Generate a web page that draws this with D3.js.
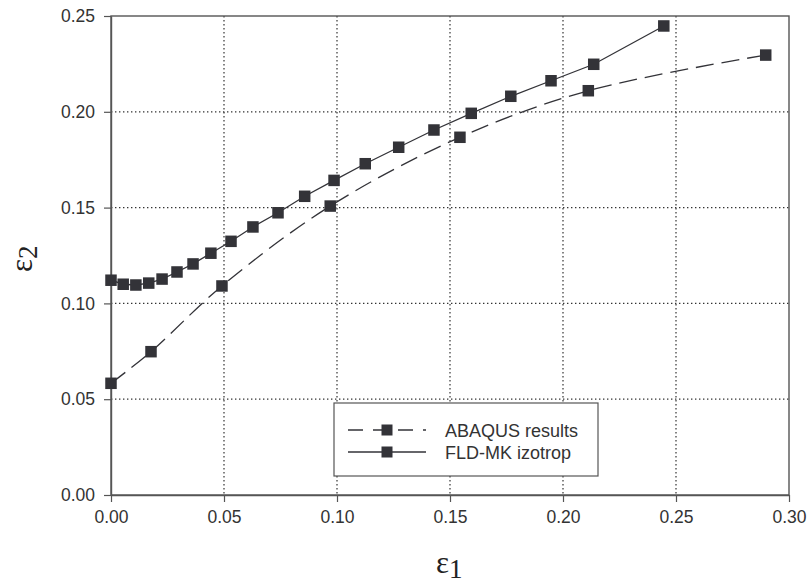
<!DOCTYPE html>
<html>
<head>
<meta charset="utf-8">
<script src="https://cdn.jsdelivr.net/npm/d3@7"></script>
<style>
  body { margin: 0; background: #fff; }
  svg { display: block; }
</style>
</head>
<body>
<script>
// ABAQUS results (dashed)
var abaqusX = [0.000, 0.0177, 0.0491, 0.0970, 0.1544, 0.2112, 0.2897];
var abaqusY = [0.0583, 0.0748, 0.1091, 0.1508, 0.1867, 0.2110, 0.2296];

// FLD-MK izotrop (solid)
var fldX = [0.000, 0.0054, 0.0110, 0.0167, 0.0226, 0.0292, 0.0363, 0.0442, 0.0531, 0.0628,
            0.0739, 0.0857, 0.0987, 0.1125, 0.1273, 0.1429, 0.1594, 0.1769, 0.1947, 0.2136, 0.2446];
var fldY = [0.1121, 0.1100, 0.1096, 0.1106, 0.1127, 0.1164, 0.1206, 0.1262, 0.1324, 0.1399,
            0.1473, 0.1559, 0.1642, 0.1729, 0.1815, 0.1905, 0.1992, 0.2081, 0.2162, 0.2248, 0.2448];

var xTicks = [0, 0.05, 0.10, 0.15, 0.20, 0.25, 0.30];
var yTicks = [0, 0.05, 0.10, 0.15, 0.20, 0.25];
var seriesNames = ["ABAQUS results", "FLD-MK izotrop"];

var W = 809, H = 588;
var margin = {left: 111, right: 20, top: 16, bottom: 93};
var w = W - margin.left - margin.right, h = H - margin.top - margin.bottom;
var ink = "#333338", frame = "#555";

var svg = d3.select("body").append("svg").attr("width", W).attr("height", H);
var g = svg.append("g").attr("transform", "translate(" + margin.left + "," + margin.top + ")");

var x = d3.scaleLinear().domain([0, 0.30]).range([0, w]);
var y = d3.scaleLinear().domain([0, 0.25]).range([h, 0]);

// dotted grid
g.append("g").selectAll("line").data(xTicks.slice(1, -1)).enter().append("line")
  .attr("x1", function(d){ return x(d); }).attr("x2", function(d){ return x(d); })
  .attr("y1", 0).attr("y2", h)
  .attr("stroke", "#333").attr("stroke-width", 1.2).attr("stroke-dasharray", "1.4,2.6");
g.append("g").selectAll("line").data(yTicks.slice(1, -1)).enter().append("line")
  .attr("y1", function(d){ return y(d); }).attr("y2", function(d){ return y(d); })
  .attr("x1", 0).attr("x2", w)
  .attr("stroke", "#333").attr("stroke-width", 1.2).attr("stroke-dasharray", "1.4,2.6");

// frame
g.append("rect").attr("width", w).attr("height", h)
  .attr("fill", "none").attr("stroke", frame).attr("stroke-width", 1.4);

// axes
var xAxis = g.append("g").attr("transform", "translate(0," + h + ")")
  .call(d3.axisBottom(x).tickValues(xTicks).tickFormat(d3.format(".2f")).tickSize(7).tickSizeOuter(0).tickPadding(9));
var yAxis = g.append("g")
  .call(d3.axisLeft(y).tickValues(yTicks).tickFormat(d3.format(".2f")).tickSize(7).tickSizeOuter(0).tickPadding(9));
[xAxis, yAxis].forEach(function(a){
  a.select(".domain").attr("stroke", frame).attr("stroke-width", 1.4);
  a.selectAll(".tick line").attr("stroke", frame).attr("stroke-width", 1.2);
  a.selectAll(".tick text").attr("fill", "#333")
    .style("font-family", "'Liberation Sans', Arial, sans-serif").style("font-size", "17.5px");
});

// series
var abaqus = abaqusX.map(function(v, i){ return [v, abaqusY[i]]; });
var fld = fldX.map(function(v, i){ return [v, fldY[i]]; });

var dashLine = d3.line().x(function(d){ return x(d[0]); }).y(function(d){ return y(d[1]); })
  .curve(d3.curveCatmullRom.alpha(0.5));
var solidLine = d3.line().x(function(d){ return x(d[0]); }).y(function(d){ return y(d[1]); });

g.append("path").datum(abaqus).attr("d", dashLine)
  .attr("fill", "none").attr("stroke", ink).attr("stroke-width", 1.3).attr("stroke-dasharray", "18,8");
g.append("path").datum(fld).attr("d", solidLine)
  .attr("fill", "none").attr("stroke", ink).attr("stroke-width", 1.3);

var ms = 11.5;
[abaqus, fld].forEach(function(data){
  g.append("g").selectAll("rect").data(data).enter().append("rect")
    .attr("x", function(d){ return x(d[0]) - ms / 2; })
    .attr("y", function(d){ return y(d[1]) - ms / 2; })
    .attr("width", ms).attr("height", ms).attr("fill", ink);
});

// legend
var lg = svg.append("g").attr("transform", "translate(334,403)");
lg.append("rect").attr("width", 264).attr("height", 73)
  .attr("fill", "#fff").attr("stroke", frame).attr("stroke-width", 1.2);
seriesNames.forEach(function(name, i){
  var yy = 27 + i * 22;
  lg.append("line").attr("x1", 14).attr("x2", 92).attr("y1", yy).attr("y2", yy)
    .attr("stroke", ink).attr("stroke-width", 1.3)
    .attr("stroke-dasharray", i === 0 ? "15,10" : null);
  lg.append("rect").attr("x", 53 - 5.5).attr("y", yy - 5.5).attr("width", 11).attr("height", 11).attr("fill", ink);
  lg.append("text").attr("x", 111).attr("y", yy + 6.5).text(name)
    .attr("fill", "#333")
    .style("font-family", "'Liberation Sans', Arial, sans-serif").style("font-size", "18px");
});

// axis titles
var xt = svg.append("text").attr("x", 436).attr("y", 573)
  .style("font-family", "'Liberation Serif', 'Times New Roman', serif").style("font-size", "31px").attr("fill", "#222");
xt.append("tspan").text("ε");
xt.append("tspan").attr("dy", 5).style("font-size", "27px").text("1");

var yt = svg.append("text").attr("transform", "translate(32,272) rotate(-90)")
  .style("font-family", "'Liberation Serif', 'Times New Roman', serif").style("font-size", "31px").attr("fill", "#222");
yt.append("tspan").text("ε");
yt.append("tspan").attr("dy", 5).style("font-size", "27px").text("2");
</script>
</body>
</html>
